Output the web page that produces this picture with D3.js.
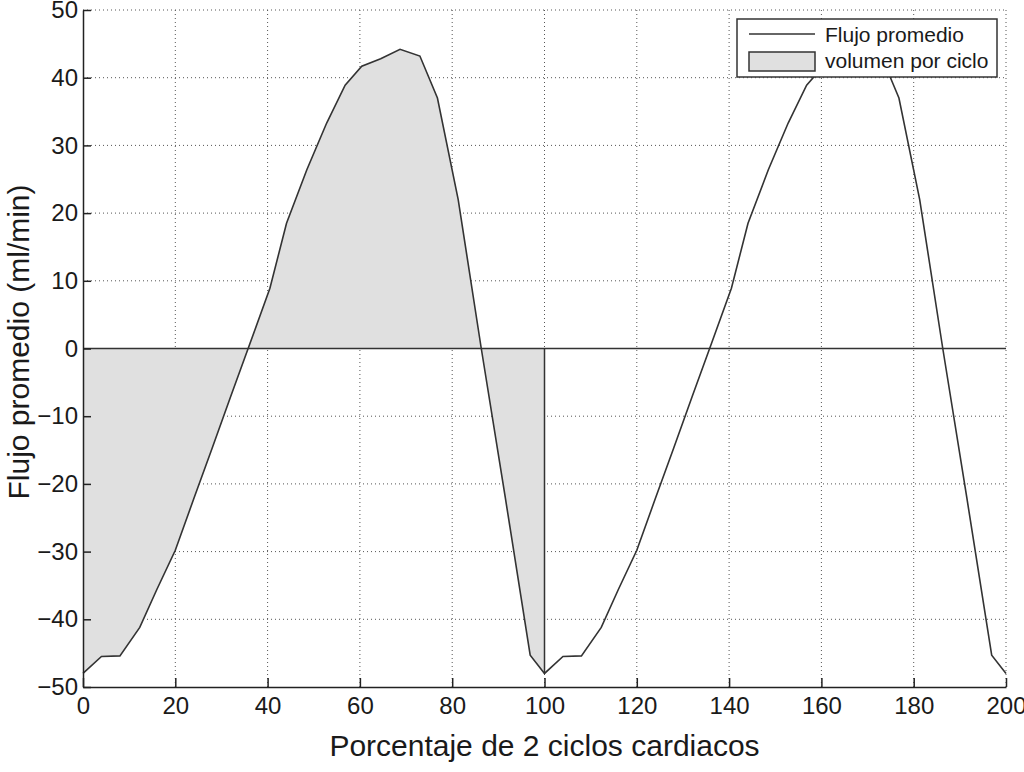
<!DOCTYPE html>
<html>
<head>
<meta charset="utf-8">
<script src="https://cdn.jsdelivr.net/npm/d3@7"></script>
<style>
  body { margin: 0; background: #fff; }
  #chart { width: 1024px; height: 772px; }
  text { font-family: "Liberation Sans", Arial, sans-serif; fill: #1a1a1a; }
</style>
</head>
<body>
<div id="chart"></div>
<script>
// data (two cardiac cycles, % of 2 cycles vs mean flow)
const pct = [0, 4, 8, 12.3, 16, 20, 24, 28, 32, 36, 40.5, 44.1, 48.5, 52.8, 56.8, 60.4, 64.5, 68.7, 73, 76.8, 81.3, 86.3, 91.5, 96.9, 100,
             104, 108, 112.3, 116, 120, 124, 128, 132, 136, 140.5, 144.1, 148.5, 152.8, 156.8, 160.4, 164.5, 168.7, 173, 176.8, 181.3, 186.3, 191.5, 196.9, 200];
const flow = [-48, -45.5, -45.4, -41.2, -35.6, -29.8, -22.2, -14.7, -7.1, 0.4, 8.9, 18.5, 26.4, 33.3, 38.9, 41.7, 42.8, 44.2, 43.2, 37, 22, 0, -22, -45.3, -48,
              -45.5, -45.4, -41.2, -35.6, -29.8, -22.2, -14.7, -7.1, 0.4, 8.9, 18.5, 26.4, 33.3, 38.9, 41.7, 42.8, 44.2, 43.2, 37, 22, 0, -22, -45.3, -48];
const xTicks = [0, 20, 40, 60, 80, 100, 120, 140, 160, 180, 200];
const yTicks = [-50, -40, -30, -20, -10, 0, 10, 20, 30, 40, 50];
const legendLabels = ["Flujo promedio", "volumen por ciclo"];
const cycleEnd = 100;

const width = 1024;
const height = 772;
const margin = { top: 10, left: 83, right: 18, bottom: 85 };

const svg = d3.select("#chart")
    .append("svg")
    .attr("width", width)
    .attr("height", height);

const data = pct.map(function(p, i) { return { x: p, y: flow[i] }; });

const xScale = d3.scaleLinear()
    .domain([0, 200])
    .range([margin.left, width - margin.right]);

const yScale = d3.scaleLinear()
    .domain([-50, 50])
    .range([height - margin.bottom, margin.top]);

// grid
const grid = svg.append("g")
    .attr("stroke", "#555")
    .attr("stroke-width", 1)
    .attr("stroke-dasharray", "1,3");

grid.selectAll(".vg")
    .data(xTicks.slice(1))
    .enter().append("line")
        .attr("x1", function(d) { return xScale(d); })
        .attr("x2", function(d) { return xScale(d); })
        .attr("y1", yScale(-50))
        .attr("y2", yScale(50));

grid.selectAll(".hg")
    .data(yTicks.slice(1))
    .enter().append("line")
        .attr("x1", xScale(0))
        .attr("x2", xScale(200))
        .attr("y1", function(d) { return yScale(d); })
        .attr("y2", function(d) { return yScale(d); });

// shaded volume for the first cycle
const firstCycle = data.filter(function(d) { return d.x <= cycleEnd; });

const area = d3.area()
    .x(function(d) { return xScale(d.x); })
    .y0(yScale(0))
    .y1(function(d) { return yScale(d.y); });

svg.append("path")
    .datum(firstCycle)
    .attr("d", area)
    .attr("fill", "#e0e0e0");

// zero line and edge at end of cycle
svg.append("line")
    .attr("x1", xScale(0))
    .attr("x2", xScale(200))
    .attr("y1", yScale(0))
    .attr("y2", yScale(0))
    .attr("stroke", "#333")
    .attr("stroke-width", 1.5);

svg.append("line")
    .attr("x1", xScale(cycleEnd))
    .attr("x2", xScale(cycleEnd))
    .attr("y1", yScale(0))
    .attr("y2", yScale(flow[pct.indexOf(cycleEnd)]))
    .attr("stroke", "#333")
    .attr("stroke-width", 1.5);

// flow line
const line = d3.line()
    .x(function(d) { return xScale(d.x); })
    .y(function(d) { return yScale(d.y); });

svg.append("path")
    .datum(data)
    .attr("d", line)
    .attr("fill", "none")
    .attr("stroke", "#333")
    .attr("stroke-width", 1.6);

// axes (ticks pointing inward like MATLAB)
const xAxis = svg.append("g")
    .attr("transform", `translate(0,${height - margin.bottom})`)
    .call(d3.axisBottom(xScale).tickValues(xTicks).tickSizeInner(-9).tickSizeOuter(0).tickPadding(12));

const yAxis = svg.append("g")
    .attr("transform", `translate(${margin.left},0)`)
    .call(d3.axisLeft(yScale).tickValues(yTicks).tickSizeInner(-8).tickSizeOuter(0).tickPadding(6));

[xAxis, yAxis].forEach(function(ax) {
    ax.select(".domain").attr("stroke", "#222").attr("stroke-width", 1.5);
    ax.selectAll(".tick line").attr("stroke", "#222").attr("stroke-width", 1.5);
    ax.selectAll(".tick text")
        .attr("font-size", 24)
        .attr("font-family", "Liberation Sans, Arial, sans-serif")
        .attr("fill", "#1a1a1a");
});
xAxis.selectAll(".tick text").attr("y", 10).attr("dy", "0.71em");
yAxis.selectAll(".tick text").attr("x", -5);

// axis labels
svg.append("text")
    .attr("x", (xScale(0) + xScale(200)) / 2)
    .attr("y", 756)
    .attr("text-anchor", "middle")
    .attr("font-size", 30)
    .text("Porcentaje de 2 ciclos cardiacos");

svg.append("text")
    .attr("transform", "rotate(-90)")
    .attr("x", -342)
    .attr("y", 29)
    .attr("text-anchor", "middle")
    .attr("font-size", 30)
    .text("Flujo promedio (ml/min)");

// legend
const legend = svg.append("g").attr("transform", "translate(737,19)");

legend.append("rect")
    .attr("width", 260)
    .attr("height", 58)
    .attr("fill", "#fff")
    .attr("stroke", "#333")
    .attr("stroke-width", 1.5);

legend.append("line")
    .attr("x1", 12).attr("x2", 78)
    .attr("y1", 15).attr("y2", 15)
    .attr("stroke", "#333")
    .attr("stroke-width", 1.5);

legend.append("rect")
    .attr("x", 12).attr("y", 33)
    .attr("width", 66).attr("height", 19)
    .attr("fill", "#e0e0e0")
    .attr("stroke", "#333")
    .attr("stroke-width", 1.5);

legend.selectAll(".lab")
    .data(legendLabels)
    .enter().append("text")
        .attr("x", 88)
        .attr("y", function(d, i) { return 23 + i * 26; })
        .attr("font-size", 21)
        .text(function(d) { return d; });
</script>
</body>
</html>
